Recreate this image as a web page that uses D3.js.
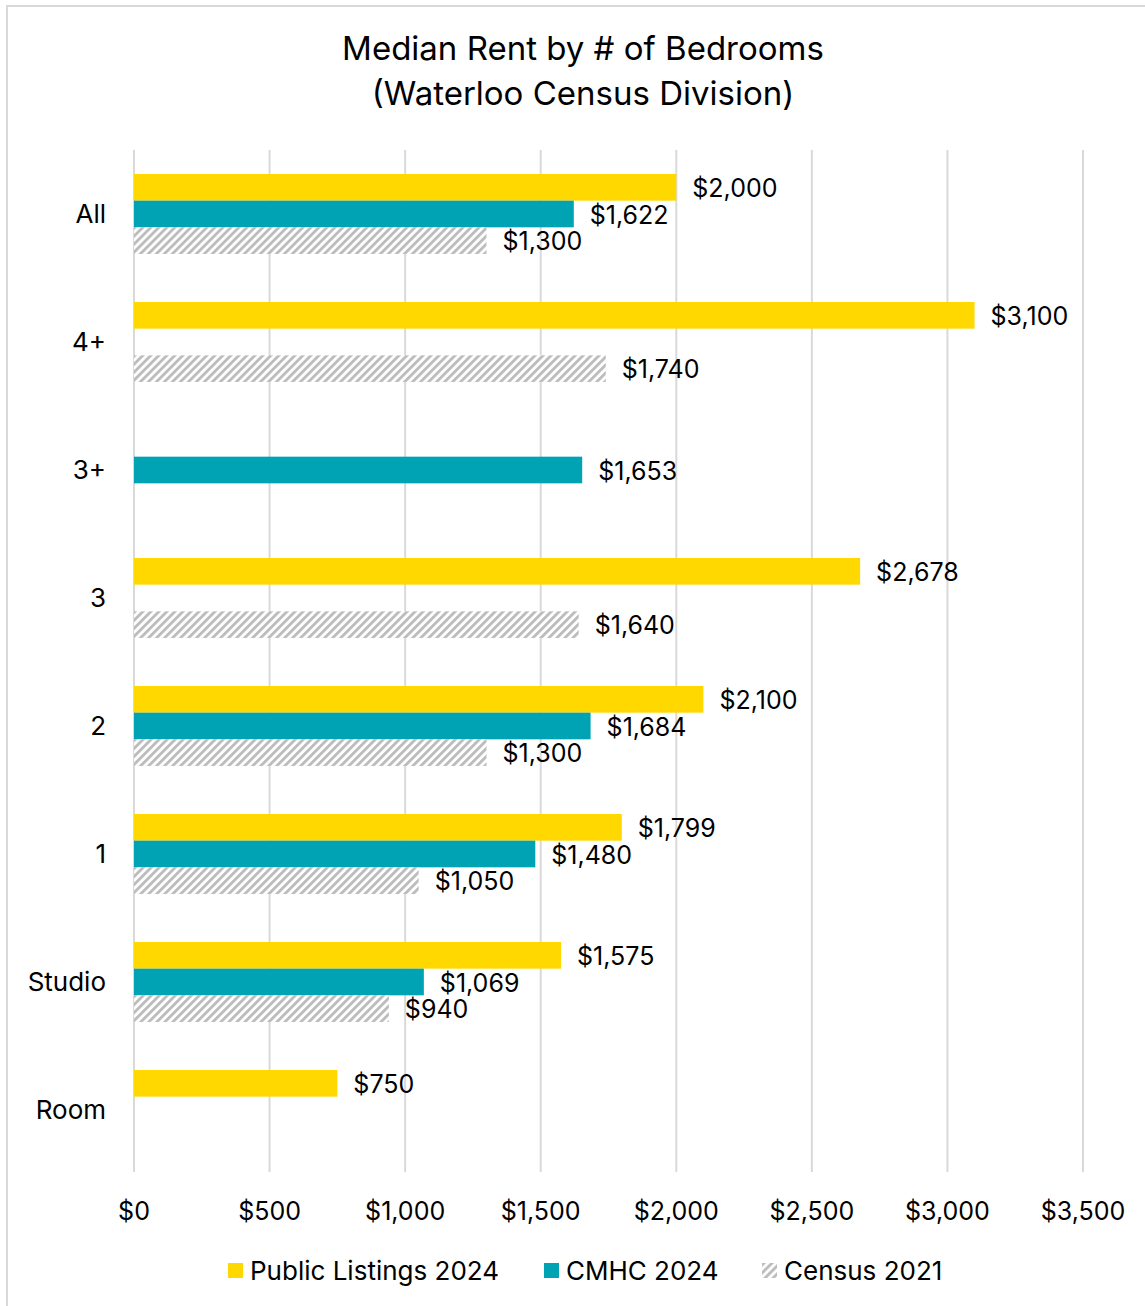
<!DOCTYPE html>
<html>
<head>
<meta charset="utf-8">
<script src="https://cdn.jsdelivr.net/npm/d3@7"></script>
<style>
  body { margin: 0; background: #fff; }
  svg text { font-family: Inter, "Liberation Sans", Arial, sans-serif; fill: #000; }
</style>
</head>
<body>
<svg id="chart"></svg>
<script>
const categories = ["All", "4+", "3+", "3", "2", "1", "Studio", "Room"];
const seriesNames = ["Public Listings 2024", "CMHC 2024", "Census 2021"];
const publicListings = [2000, 3100, null, 2678, 2100, 1799, 1575, 750];
const cmhc = [1622, null, 1653, null, 1684, 1480, 1069, null];
const census = [1300, 1740, null, 1640, 1300, 1050, 940, null];
const xTicks = [0, 500, 1000, 1500, 2000, 2500, 3000, 3500];

const width = 1145, height = 1306;
const colors = ["#ffd800", "#00a3b4", "url(#hatch)"];

const svg = d3.select("#chart")
  .attr("width", width)
  .attr("height", height);

const defs = svg.append("defs");
const pat = defs.append("pattern")
  .attr("id", "hatch")
  .attr("patternUnits", "userSpaceOnUse")
  .attr("width", 5.66)
  .attr("height", 5.66)
  .attr("patternTransform", "rotate(45)");
pat.append("rect").attr("width", 5.66).attr("height", 5.66).attr("fill", "#fff");
pat.append("rect").attr("width", 2.9).attr("height", 5.66).attr("fill", "#bdbdbd");

// outer border
svg.append("rect")
  .attr("x", 7).attr("y", 6)
  .attr("width", width).attr("height", height)
  .attr("fill", "none")
  .attr("stroke", "#d9d9d9")
  .attr("stroke-width", 2);

// title
svg.append("text")
  .attr("x", 583).attr("y", 60)
  .attr("text-anchor", "middle")
  .style("font-size", "33px")
  .text("Median Rent by # of Bedrooms");
svg.append("text")
  .attr("x", 583).attr("y", 105)
  .attr("text-anchor", "middle")
  .style("font-size", "33px")
  .text("(Waterloo Census Division)");

const x = d3.scaleLinear().domain([0, 3500]).range([134, 1083]);
const y = d3.scaleBand().domain(categories).range([150, 1174]);
const bw = y.bandwidth();
const sub = d3.scaleBand().domain(seriesNames)
  .range([bw * 0.1875, bw * 0.8125]);

// gridlines
svg.append("g")
  .selectAll("line")
  .data(xTicks)
  .join("line")
  .attr("x1", d => x(d)).attr("x2", d => x(d))
  .attr("y1", 150).attr("y2", 1172)
  .attr("stroke", "#d9d9d9")
  .attr("stroke-width", 2);

// x tick labels
svg.append("g")
  .selectAll("text")
  .data(xTicks)
  .join("text")
  .attr("x", d => x(d))
  .attr("y", 1220)
  .attr("text-anchor", "middle")
  .style("font-size", "25px")
  .text(d => d3.format("$,")(d));

// category labels
svg.append("g")
  .selectAll("text")
  .data(categories)
  .join("text")
  .attr("x", 106)
  .attr("y", d => y(d) + bw / 2)
  .attr("dy", "0.35em")
  .attr("text-anchor", "end")
  .style("font-size", "26px")
  .text(d => d);

const rows = [];
[publicListings, cmhc, census].forEach((vals, si) => {
  vals.forEach((v, i) => {
    if (v != null) rows.push({ cat: categories[i], series: seriesNames[si], si, v });
  });
});

const bars = svg.append("g");
bars.selectAll("rect")
  .data(rows)
  .join("rect")
  .attr("x", x(0))
  .attr("y", d => y(d.cat) + sub(d.series))
  .attr("width", d => x(d.v) - x(0))
  .attr("height", sub.bandwidth())
  .attr("fill", d => colors[d.si]);

bars.selectAll("text")
  .data(rows)
  .join("text")
  .attr("x", d => x(d.v) + 16)
  .attr("y", d => y(d.cat) + sub(d.series) + sub.bandwidth() / 2 + 1)
  .attr("dy", "0.35em")
  .style("font-size", "25px")
  .text(d => d3.format("$,")(d.v));

// legend
const legendX = [228, 544, 762];
const legend = svg.append("g")
  .selectAll("g")
  .data(seriesNames)
  .join("g")
  .attr("transform", (d, i) => `translate(${legendX[i]},1263)`);
legend.append("rect")
  .attr("width", 15).attr("height", 15)
  .attr("fill", (d, i) => colors[i]);
legend.append("text")
  .attr("x", 22).attr("y", 7.5)
  .attr("dy", "0.35em")
  .style("font-size", "26px")
  .text(d => d);
</script>
</body>
</html>
